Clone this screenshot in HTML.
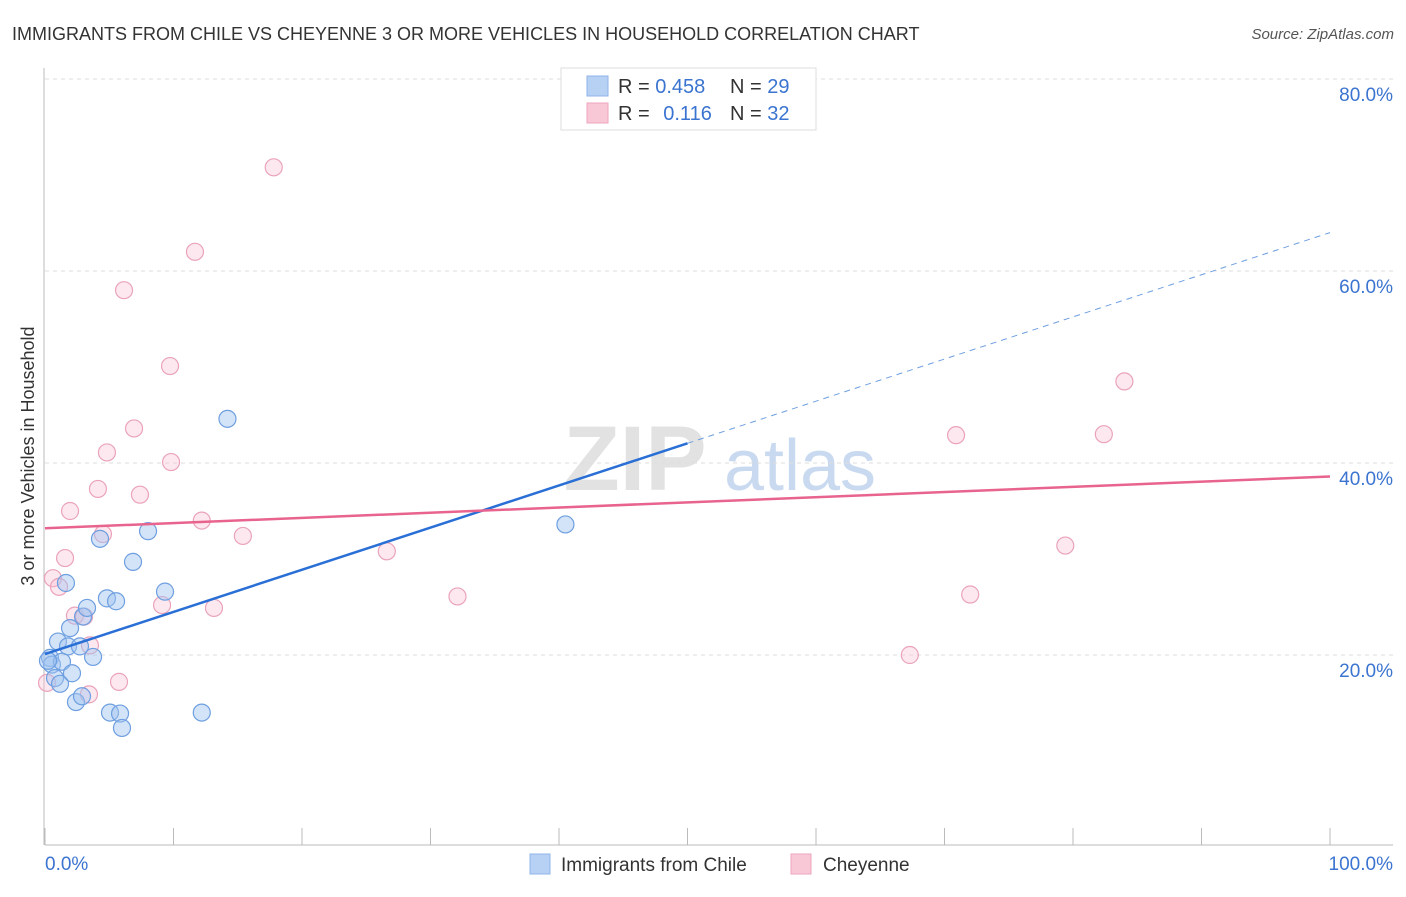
<!DOCTYPE html>
<html><head><meta charset="utf-8">
<style>
body{margin:0;background:#fff;font-family:"Liberation Sans",sans-serif;}
svg text{font-family:"Liberation Sans",sans-serif;}
</style></head>
<body>
<svg id="chart" width="1406" height="892" viewBox="0 0 1406 892" xmlns="http://www.w3.org/2000/svg">
<text x="12" y="40" font-size="18" fill="#333">IMMIGRANTS FROM CHILE VS CHEYENNE 3 OR MORE VEHICLES IN HOUSEHOLD CORRELATION CHART</text>
<text x="1394" y="39" font-size="15" fill="#555" text-anchor="end" font-style="italic">Source: ZipAtlas.com</text>
<g>
<text x="635" y="490" font-size="92" fill="#e2e2e2" text-anchor="middle" font-family="Liberation Serif" font-weight="bold">ZIP</text>
<text x="800" y="490" font-size="72" fill="#c9daf0" text-anchor="middle">atlas</text>
</g>
<g id="grid"></g>
<g id="axes"></g>
<text transform="translate(34,456) rotate(-90)" font-size="18" fill="#333" text-anchor="middle">3 or more Vehicles in Household</text>
<g id="pts"></g>
<g id="lines"></g>
<g>
<rect x="561" y="68" width="255" height="62" fill="#fff" stroke="#ddd"/>
<rect x="587" y="76" width="21" height="20" fill="#b7d1f4" stroke="#8fb3e8"/>
<rect x="587" y="103" width="21" height="20" fill="#f9c8d7" stroke="#eea5bd"/>
<text x="618" y="93" font-size="20" fill="#333">R = <tspan fill="#3b74d0">0.458</tspan></text>
<text x="730" y="93" font-size="20" fill="#333">N = <tspan fill="#3b74d0">29</tspan></text>
<text x="618" y="120" font-size="20" fill="#333">R = <tspan fill="#3b74d0" dx="8">0.116</tspan></text>
<text x="730" y="120" font-size="20" fill="#333">N = <tspan fill="#3b74d0">32</tspan></text>
</g>
<g>
<rect x="530" y="854" width="20" height="20" fill="#b7d1f4" stroke="#8fb3e8"/>
<text x="561" y="871" font-size="19" fill="#333">Immigrants from Chile</text>
<rect x="791" y="854" width="20" height="20" fill="#f9c8d7" stroke="#eea5bd"/>
<text x="823" y="871" font-size="19" fill="#333">Cheyenne</text>
</g>
</svg>
<script>
const yTicks=[20,40,60,80];
const yTickLabels=["20.0%","40.0%","60.0%","80.0%"];
const xTickLabels=["0.0%","100.0%"];
const chileX=[0.39,0.54,0.78,1.01,1.17,1.32,1.63,1.79,1.95,2.10,2.41,2.72,2.96,3.27,2.88,3.74,4.28,4.82,5.06,5.53,5.84,5.99,6.85,8.02,9.34,12.2,14.2,40.5,0.23];
const chileY=[19.7,19.0,17.6,21.4,17.0,19.3,27.5,20.9,22.8,18.1,15.1,20.9,24.0,24.9,15.7,19.8,32.1,25.9,14.0,25.6,13.9,12.4,29.7,32.9,26.6,14.0,44.6,33.6,19.4];
const cheyX=[0.16,0.62,1.09,1.56,1.95,2.33,3.04,3.42,4.12,4.51,4.82,5.76,6.15,6.93,7.39,9.11,9.73,9.81,11.67,12.2,13.15,15.4,17.8,26.6,32.1,67.3,70.9,72.0,79.4,82.4,84.0,3.50];
const cheyY=[17.1,28.0,27.1,30.1,35.0,24.1,24.0,15.9,37.3,32.6,41.1,17.2,58.0,43.6,36.7,25.2,50.1,40.1,62.0,34.0,24.9,32.4,70.8,30.8,26.1,20.0,42.9,26.3,31.4,43.0,48.5,21.0];
const chileTrend=[20.1,64.0];
const cheyTrend=[33.2,38.6];
const chileSolidEnd=50;

const NS="http://www.w3.org/2000/svg";
const X=v=>45+v*12.85, Y=v=>847-v*9.6;
function mk(t,a,p){const e=document.createElementNS(NS,t);for(const k in a)e.setAttribute(k,a[k]);p.appendChild(e);return e;}
const grid=document.getElementById('grid'),axes=document.getElementById('axes');
yTicks.forEach((t,i)=>{
  const g=mk('line',{x1:45,x2:1393,y1:Y(t),y2:Y(t),stroke:'#ddd','stroke-dasharray':'4,4'},grid);
  
  
  const l=mk('text',{x:1393,y:Y(t)+22,'font-size':19,fill:'#3b74d0','text-anchor':'end'},axes);
  l.textContent=yTickLabels[i];
  
  
});
mk('line',{x1:44,x2:44,y1:68,y2:845,stroke:'#bbb'},axes);
mk('line',{x1:45,x2:1393,y1:845,y2:845,stroke:'#bbb'},axes);
for(let i=0;i<=10;i++){mk('line',{x1:X(i*10),x2:X(i*10),y1:828,y2:845,stroke:'#bbb'},axes);}
const xl0=mk('text',{x:45,y:870,'font-size':19,fill:'#3b74d0'},axes);xl0.textContent=xTickLabels[0];


const xl1=mk('text',{x:1393,y:870,'font-size':19,fill:'#3b74d0','text-anchor':'end'},axes);xl1.textContent=xTickLabels[1];


const pts=document.getElementById('pts');
cheyX.forEach((x,i)=>{const c=mk('circle',{cx:X(x),cy:Y(cheyY[i]),r:8.5,fill:'rgba(248,190,210,0.35)',stroke:'#eaa3bb','stroke-width':1.2},pts);
  
  });
chileX.forEach((x,i)=>{const c=mk('circle',{cx:X(x),cy:Y(chileY[i]),r:8.5,fill:'rgba(160,196,240,0.45)',stroke:'#6e9fe0','stroke-width':1.2},pts);
  
  });
const lines=document.getElementById('lines');
const cy=x=>chileTrend[0]+(chileTrend[1]-chileTrend[0])*x/100;
const l1=mk('line',{x1:X(0),y1:Y(cy(0)),x2:X(chileSolidEnd),y2:Y(cy(chileSolidEnd)),stroke:'#2a6fd6','stroke-width':2.5},lines);


const l2=mk('line',{x1:X(chileSolidEnd),y1:Y(cy(chileSolidEnd)),x2:X(100),y2:Y(cy(100)),stroke:'#6e9fe0','stroke-width':1,'stroke-dasharray':'6,5'},lines);


const l3=mk('line',{x1:X(0),y1:Y(cheyTrend[0]),x2:X(100),y2:Y(cheyTrend[1]),stroke:'#e8638e','stroke-width':2.5},lines);


</script>
</body></html>
